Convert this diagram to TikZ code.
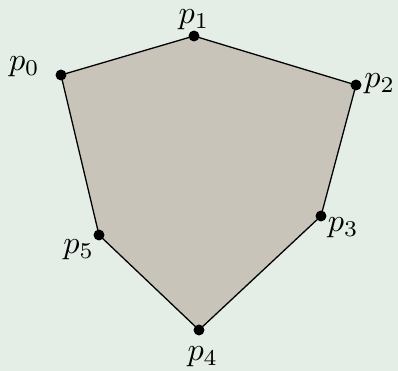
\documentclass[tikz,border=0pt]{standalone}
\usepackage{xcolor}
\usetikzlibrary{positioning, backgrounds}
\definecolor{pageFill}{HTML}{E4EEE6}
\definecolor{hullFill}{HTML}{C8C4B9}

\begin{document}
\begin{tikzpicture}[
    x=0.31pt, y=-0.31pt,
    pt/.style={circle, fill=black, inner sep=0pt, minimum size=3.4pt},
    lab/.style={inner sep=0pt},
    edge/.style={draw=black, line width=0.4pt},
  ]
    \useasboundingbox (0,0) rectangle (398,371);

    \node[pt] (p0) at (61,75) {};
    \node[pt] (p1) at (194,36) {};
    \node[pt] (p2) at (356,85) {};
    \node[pt] (p3) at (321,216) {};
    \node[pt] (p4) at (199,330) {};
    \node[pt] (p5) at (99,235) {};

    \node[lab, left=4.5pt of p0, yshift=2.5pt] (l0) {$p_0$};
    \node[lab, above=-0.3pt of p1] (l1) {$p_1$};
    \node[lab, right=0.5pt of p2, yshift=0.5pt] (l2) {$p_2$};
    \node[lab, right=0pt of p3, yshift=-3.6pt] (l3) {$p_3$};
    \node[lab, below=3pt of p4, xshift=1.2pt] (l4) {$p_4$};
    \node[lab, below left=0pt of p5] (l5) {$p_5$};

    \begin{scope}[on background layer]
      \fill[pageFill] (0,0) rectangle (398,371);
      \fill[hullFill, edge] (p0.center) -- (p1.center) -- (p2.center)
        -- (p3.center) -- (p4.center) -- (p5.center) -- cycle;
    \end{scope}
\end{tikzpicture}
\end{document}
